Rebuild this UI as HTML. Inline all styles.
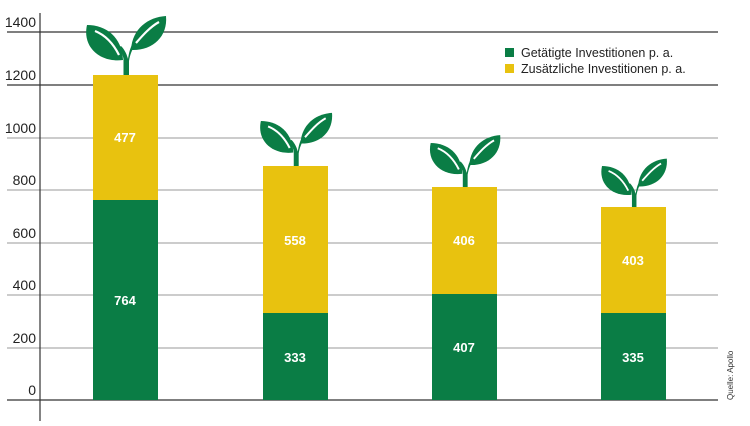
<!DOCTYPE html>
<html><head><meta charset="utf-8"><style>
body{margin:0;background:#fff}
svg text{font-family:"Liberation Sans",sans-serif}
</style></head><body>
<svg width="750" height="421" viewBox="0 0 750 421" xmlns="http://www.w3.org/2000/svg">
<defs>
<g id="sp">
<path d="M-2.5,0 L-2.5,-16 C-3,-20 -5,-24 -8,-27 L-5,-29 C-1,-25 1,-20 2,-16 C3,-22 4,-28 8,-33 L10,-31 C6,-26 4,-20 3,-14 L3,0 Z" fill="#0a7d45"/>
<path d="M-3,-15 C-4,-38 -20,-50 -39,-50 C-44,-28 -26,-12 -3,-15 Z" fill="#0a7d45"/>
<path d="M-7,-20 C-13,-32 -21,-40 -31,-44" stroke="#fff" stroke-width="2.2" fill="none"/>
<path d="M5,-25 C6,-46 22,-58 40,-59 C42,-38 26,-24 5,-25 Z" fill="#0a7d45"/>
<path d="M10,-32 C17,-40 24,-48 33,-53" stroke="#fff" stroke-width="2.2" fill="none"/>
</g>
</defs>
<g stroke="#333" stroke-width="1.2">
<line x1="7" y1="32" x2="718" y2="32"/>
<line x1="7" y1="85" x2="718" y2="85"/>
<line x1="7" y1="400" x2="718" y2="400"/>
</g>
<g stroke="#999" stroke-width="1">
<line x1="7" y1="138" x2="718" y2="138"/>
<line x1="7" y1="190" x2="718" y2="190"/>
<line x1="7" y1="243" x2="718" y2="243"/>
<line x1="7" y1="295" x2="718" y2="295"/>
<line x1="7" y1="348" x2="718" y2="348"/>
</g>
<line x1="40" y1="13" x2="40" y2="421" stroke="#333" stroke-width="1.2"/>
<g font-size="14" fill="#222" text-anchor="end">
<text x="36" y="27">1400</text><text x="36" y="80">1200</text><text x="36" y="133">1000</text>
<text x="36" y="185">800</text><text x="36" y="238">600</text><text x="36" y="290">400</text>
<text x="36" y="343">200</text><text x="36" y="395">0</text>
</g>
<use href="#sp" transform="translate(126,75)"/>
<use href="#sp" transform="translate(296,166) scale(0.9)"/>
<use href="#sp" transform="translate(465,187) scale(0.88)"/>
<use href="#sp" transform="translate(634,207) scale(0.82)"/>
<g fill="#e8c20f">
<rect x="93" y="75" width="65" height="125"/>
<rect x="263" y="166" width="65" height="147"/>
<rect x="432" y="187" width="65" height="107"/>
<rect x="601" y="207" width="65" height="106"/>
</g>
<g fill="#0a7d45">
<rect x="93" y="200" width="65" height="200"/>
<rect x="263" y="313" width="65" height="87"/>
<rect x="432" y="294" width="65" height="106"/>
<rect x="601" y="313" width="65" height="87"/>
</g>
<g font-size="13" font-weight="bold" fill="#fff" text-anchor="middle">
<text x="125" y="142">477</text><text x="125" y="305">764</text>
<text x="295" y="245">558</text><text x="295" y="362">333</text>
<text x="464" y="245">406</text><text x="464" y="352">407</text>
<text x="633" y="265">403</text><text x="633" y="362">335</text>
</g>
<rect x="505" y="48" width="9" height="9" fill="#0a7d45"/>
<rect x="505" y="64" width="9" height="9" fill="#e8c20f"/>
<g font-size="12.5" fill="#222">
<text x="521" y="57">Getätigte Investitionen p. a.</text>
<text x="521" y="73">Zusätzliche Investitionen p. a.</text>
</g>
<text transform="translate(733,400) rotate(-90)" font-size="8" fill="#333">Quelle: Apollo</text>
</svg>
</body></html>
